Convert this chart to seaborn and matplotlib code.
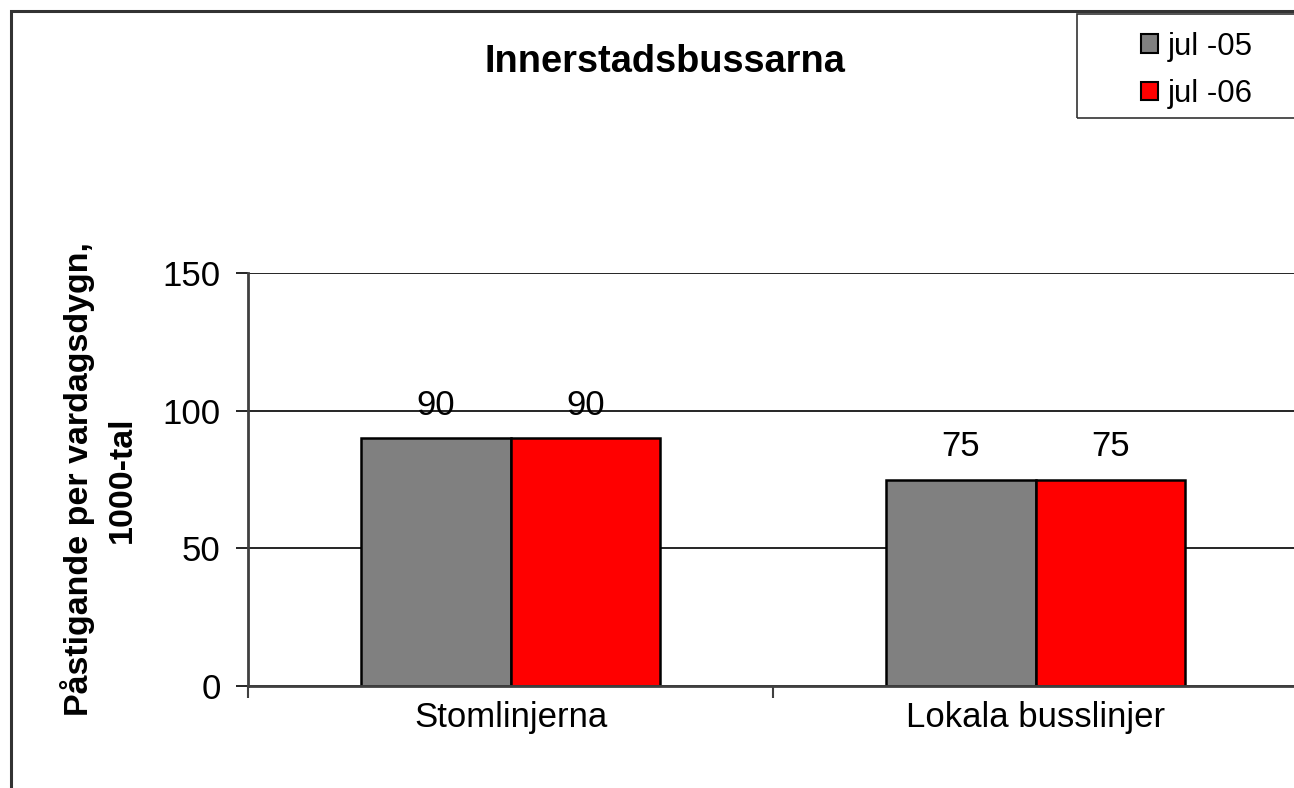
import pandas as pd
import matplotlib.pyplot as plt
import matplotlib.patches as mpatches
from matplotlib.ticker import FixedLocator
import seaborn as sns

# data
kategorier = ['Stomlinjerna', 'Lokala busslinjer']
perioder = ['jul -05', 'jul -06']
jul_05 = [90, 75]
jul_06 = [90, 75]
farger = ['#808080', '#FF0000']

df = pd.DataFrame({
    'kategori': kategorier * 2,
    'period': [perioder[0]] * 2 + [perioder[1]] * 2,
    'varde': jul_05 + jul_06,
})

sns.set_style('white')
plt.rcParams['font.family'] = ['Liberation Sans', 'DejaVu Sans']
plt.rcParams['text.color'] = 'black'
plt.rcParams['xtick.color'] = 'black'
plt.rcParams['ytick.color'] = 'black'
plt.rcParams['axes.labelcolor'] = 'black'

fig = plt.figure(figsize=(12.94, 7.88), dpi=100)
# plot area runs slightly past the right edge, as in the original
ax = fig.add_axes([248 / 1294, 102 / 788, 1050 / 1294, 413 / 788])

sns.barplot(data=df, x='kategori', y='varde', hue='period', palette=farger, saturation=1,
            width=0.571, edgecolor='black', linewidth=1.8, ax=ax, legend=False)

for c in ax.containers:
    ax.bar_label(c, labels=[f'{v:.0f}' for v in c.datavalues], padding=12, fontsize=25)

ax.set_ylim(0, 150)
ax.set_yticks([0, 50, 100, 150])
ax.yaxis.grid(True, color='black', linewidth=1.2)
ax.set_axisbelow(True)
ax.tick_params(axis='y', labelsize=25, length=8.6, width=1.2, pad=11, left=True)
ax.tick_params(axis='x', which='major', labelsize=25, length=0, pad=11)
ax.xaxis.set_minor_locator(FixedLocator([-0.5, 0.5, 1.5]))
ax.tick_params(axis='x', which='minor', length=8.6, width=1.5, bottom=True, color='#404040')
ax.set_xlim(-0.5, 1.5)
ax.set_xlabel('')

for s in ['top', 'right']:
    ax.spines[s].set_visible(False)
for s in ['left', 'bottom']:
    ax.spines[s].set_color('#404040')
    ax.spines[s].set_linewidth(2)

ax.set_ylabel('Påstigande per vardagsdygn,\n1000-tal', fontsize=24.5, fontweight='bold',
              linespacing=1.5, va='center', ha='center')
ax.yaxis.set_label_coords(-0.142, 0.5)

fig.text(665 / 1294, 1 - 62 / 788, 'Innerstadsbussarna', fontsize=27.4, fontweight='bold',
         ha='center', va='center')

# outer chart border (only top and left fall inside the image)
fig.patches.append(mpatches.Rectangle((11 / 1294, -0.1), 1.2, 1.1 - 11 / 788, transform=fig.transFigure,
                                      fill=False, edgecolor='#333333', linewidth=2.2))

# legend box
fig.patches.append(mpatches.Rectangle((1077 / 1294, 1 - 118 / 788), 0.3, 104 / 788, transform=fig.transFigure,
                                      fill=False, edgecolor='#333333', linewidth=1.2))
handles = [mpatches.Patch(facecolor=f, edgecolor='black', linewidth=1.5) for f in farger]
fig.legend(handles, perioder, loc='upper left', bbox_to_anchor=(1119 / 1294, 1 - 10 / 788),
           frameon=False, fontsize=22.5, handlelength=0.55, handleheight=0.55,
           handletextpad=0.3, labelspacing=0.55, borderpad=0.2)

fig.savefig('out.png', dpi=100)
